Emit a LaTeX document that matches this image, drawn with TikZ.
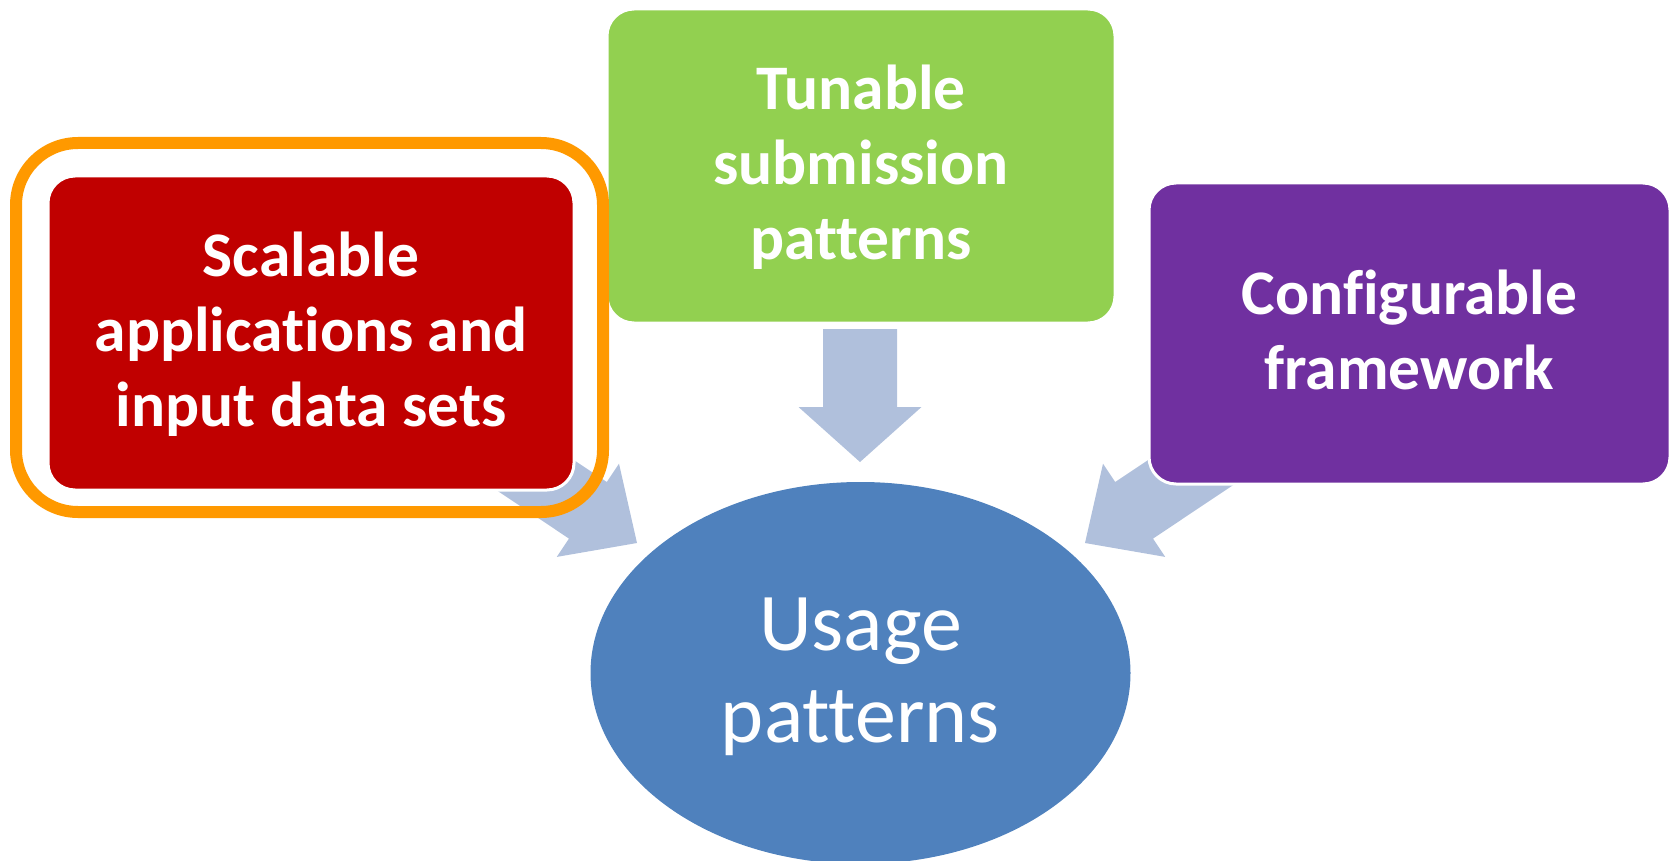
\documentclass[tikz,border=0pt]{standalone}
\usepackage{fontspec}
\setmainfont{Carlito}[Ligatures=NoCommon,RawFeature={-liga;-clig;-dlig}]
\usetikzlibrary{shapes.geometric}
\definecolor{boxred}{HTML}{C00000}
\definecolor{boxgreen}{HTML}{92D050}
\definecolor{boxpurple}{HTML}{7030A0}
\definecolor{ellblue}{HTML}{4F81BD}
\definecolor{arrowblue}{HTML}{B0C0DC}
\definecolor{frameorange}{HTML}{FF9900}
\newcommand\MyTopStrut{\rule{0pt}{0.87em}}
\newcommand\MyBotStrut{\rule[-0.3em]{0pt}{0.3em}}
\tikzset{
  box/.style={rectangle, rounded corners=27pt, draw=white, line width=3pt,
    text=white, align=center, inner sep=0pt,
    font=\bfseries\fontsize{63.5}{75}\selectfont},
  blockarrow/.style={fill=arrowblue, draw=none},
  usage/.style={ellipse, fill=ellblue, draw=none, text=white, align=center,
    inner sep=0pt, font=\fontsize{82}{92}\selectfont},
  highlight/.style={rectangle, draw=frameorange, line width=12pt, rounded corners=62pt,
    inner sep=0pt}
}
\begin{document}
\begin{tikzpicture}[x=1pt,y=-1pt]
\useasboundingbox (0,0) rectangle (1669,861);
% down arrow
\coordinate (dT) at (860,462);
\coordinate (dB1) at (798.5,407);
\coordinate (dB2) at (921.5,407);
\coordinate (dS1) at (823,407);
\coordinate (dS2) at (897,407);
\coordinate (dC1) at (823,329);
\coordinate (dC2) at (897,329);
\fill[blockarrow] (dC1) -- (dS1) -- (dB1) -- (dT) -- (dB2) -- (dS2) -- (dC2) -- cycle;
% left arrow
\coordinate (lT) at (637,543);
\coordinate (lB1) at (556.8,556.9);
\coordinate (lB2) at (619.0,463.7);
\coordinate (lS1) at (569.0,538.6);
\coordinate (lS2) at (606.8,482.0);
\coordinate (lC1) at (485.0,482.5);
\coordinate (lC2) at (522.8,425.9);
\fill[blockarrow] (lC1) -- (lS1) -- (lB1) -- (lT) -- (lB2) -- (lS2) -- (lC2) -- cycle;
% right arrow
\coordinate (rT) at (1085,543);
\coordinate (rB1) at (1165.2,556.9);
\coordinate (rB2) at (1103.0,463.7);
\coordinate (rS1) at (1153.0,538.6);
\coordinate (rS2) at (1115.2,482.0);
\coordinate (rC1) at (1237.0,482.5);
\coordinate (rC2) at (1199.2,425.9);
\fill[blockarrow] (rC1) -- (rS1) -- (rB1) -- (rT) -- (rB2) -- (rS2) -- (rC2) -- cycle;
% centre ellipse
\node[usage, minimum width=540pt, minimum height=382pt] (usage) at (860.5,673)
  {\MyTopStrut Usage\\patterns\MyBotStrut};
% boxes
\node[box, fill=boxred, minimum width=526pt, minimum height=314pt] (scal) at (311,333)
  {\MyTopStrut Scalable\\applications and\\input data sets\MyBotStrut};
\node[box, fill=boxgreen, minimum width=508pt, minimum height=314pt] (tune) at (861,166)
  {\MyTopStrut Tunable\\submission\\patterns\MyBotStrut};
\node[box, fill=boxpurple, minimum width=521pt, minimum height=301pt] (conf) at (1409.5,333.5)
  {\MyTopStrut Configurable\\framework\MyBotStrut};
% orange highlight frame
\node[highlight, minimum width=587pt, minimum height=369pt] (frame) at (309.5,327.5) {};
\end{tikzpicture}
\end{document}
